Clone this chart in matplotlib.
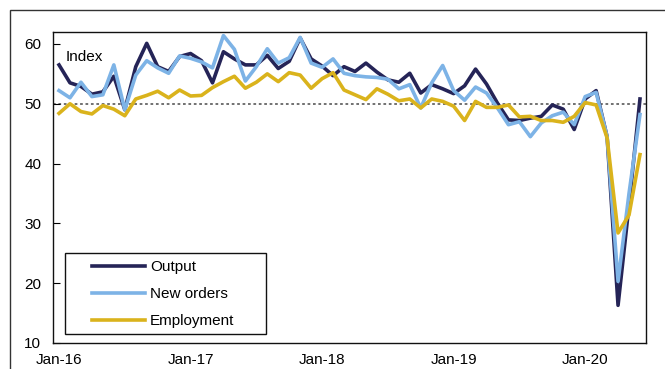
'''Manufacturing PMI sub-indices: output, new orders and employment.'''

import matplotlib
matplotlib.use('Agg')
import matplotlib.pyplot as plt
from matplotlib.patches import Rectangle

plt.rcParams['font.family'] = ['Liberation Sans', 'DejaVu Sans']

# monthly readings, Jan-16 to Jun-20
months = list(range(54))
tick_pos = [0, 12, 24, 36, 48]
tick_labels = ['Jan-16', 'Jan-17', 'Jan-18', 'Jan-19', 'Jan-20']

output = [56.5, 53.5, 52.9, 51.6, 52.0, 54.6, 49.0, 56.2, 60.1, 56.2, 55.4, 57.9,
          58.4, 57.2, 53.5, 58.7, 57.5, 56.5, 56.5, 58.1, 55.9, 57.1, 61.0, 57.5,
          56.3, 54.7, 56.2, 55.4, 56.8, 55.3, 54.0, 53.6, 55.1, 51.8, 53.2, 52.5,
          51.7, 53.0, 55.8, 53.3, 50.1, 47.3, 47.2, 47.6, 47.9, 49.8, 49.1, 45.7,
          50.8, 52.2, 44.5, 16.3, 33.0, 50.8]
new_orders = [52.2, 51.0, 53.6, 51.2, 51.5, 56.5, 49.0, 54.8, 57.2, 56.0, 55.1, 58.0,
              57.6, 57.0, 56.0, 61.4, 59.1, 53.8, 56.2, 59.2, 56.8, 57.7, 61.1, 56.8,
              56.1, 57.5, 55.1, 54.7, 54.5, 54.4, 54.1, 52.5, 53.2, 49.3, 53.5, 56.4,
              52.2, 50.6, 52.8, 51.8, 49.3, 46.5, 47.0, 44.5, 46.8, 48.0, 48.6, 46.5,
              51.2, 51.9, 44.5, 20.3, 35.0, 48.2]
employment = [48.4, 50.0, 48.7, 48.3, 49.7, 49.1, 48.0, 50.8, 51.4, 52.1, 51.0, 52.3,
              51.3, 51.4, 52.7, 53.7, 54.6, 52.6, 53.6, 55.0, 53.7, 55.2, 54.8, 52.6,
              54.2, 55.2, 52.3, 51.5, 50.7, 52.5, 51.6, 50.5, 50.8, 49.3, 50.8, 50.4,
              49.6, 47.2, 50.4, 49.4, 49.4, 49.8, 47.8, 47.9, 47.2, 47.2, 46.9, 47.9,
              50.2, 49.8, 44.3, 28.4, 31.4, 41.5]

fig = plt.figure(figsize=(6.65, 3.69), dpi=100)
ax = fig.add_axes([53 / 665, 1 - 343 / 369, 593 / 665, 311 / 369])

# outer frame of the exhibit (runs off the right and bottom edges)
fig.patches.append(Rectangle((10 / 665, -0.1), 1.2, 1.1 - 10 / 369, transform=fig.transFigure,
                             fill=False, edgecolor='#333333', linewidth=1.0))

ax.axhline(50, color='#666666', linestyle=(0, (1.5, 1.5)), linewidth=1.3, zorder=1)

ax.plot(months, output, color='#252457', linewidth=2.6, label='Output', zorder=3)
ax.plot(months, new_orders, color='#7db3e6', linewidth=2.6, label='New orders', zorder=4)
ax.plot(months, employment, color='#dab31c', linewidth=2.6, label='Employment', zorder=5)

ax.set_xlim(-0.55, 53.55)
ax.set_ylim(10, 62)
ax.set_yticks([10, 20, 30, 40, 50, 60])
ax.set_xticks(tick_pos)
ax.set_xticklabels(tick_labels)
ax.tick_params(axis='y', direction='in', length=5, width=0.8, pad=8.5, labelsize=11)
ax.tick_params(axis='x', length=0, pad=7, labelsize=11)
for sp in ax.spines.values():
    sp.set_linewidth(1.0)
    sp.set_color('#111111')

ax.text(0.6, 57.9, 'Index', fontsize=11, ha='left', va='center')

# legend box drawn separately so the padding matches
ax.add_patch(Rectangle((12 / 593, 9 / 311), 201 / 593, 81 / 311, transform=ax.transAxes,
                       fill=False, edgecolor='#111111', linewidth=1.0, zorder=6))
ax.legend(loc='upper left', bbox_to_anchor=(39 / 593, 83 / 311), frameon=False,
          fontsize=11, handlelength=3.5, handletextpad=0.3, labelspacing=0.85,
          borderpad=0, borderaxespad=0)

fig.savefig('out.png', dpi=100)
